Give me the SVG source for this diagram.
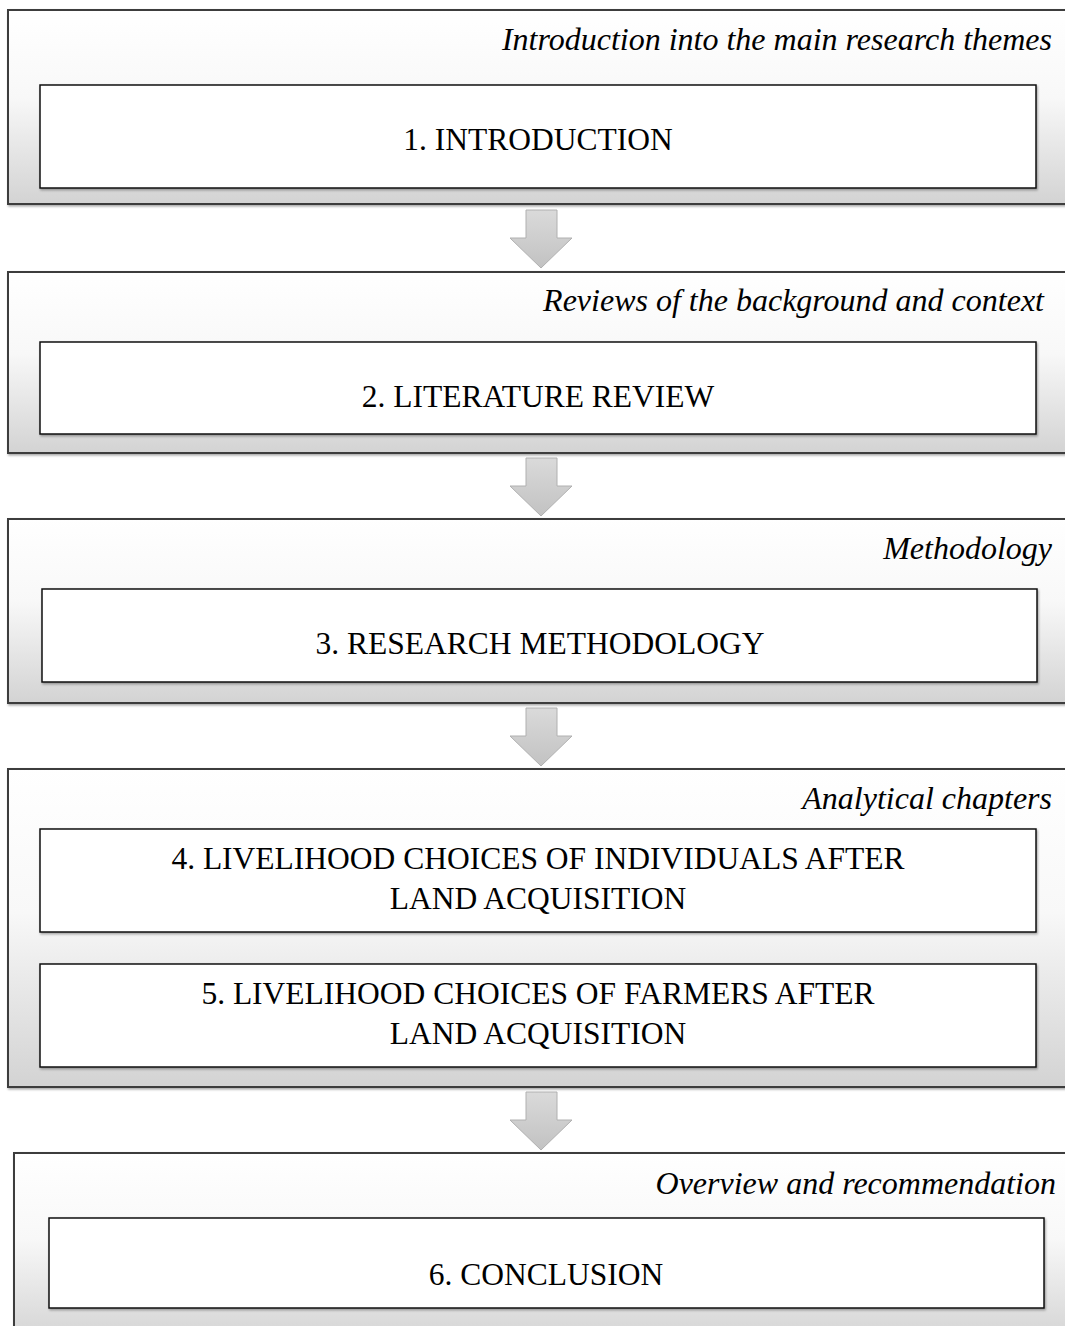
<svg xmlns="http://www.w3.org/2000/svg" width="1065" height="1326" viewBox="0 0 1065 1326">
<defs>
<linearGradient id="og" x1="0" y1="0" x2="0" y2="1">
<stop offset="0" stop-color="#ffffff"/>
<stop offset="0.45" stop-color="#f8f8f8"/>
<stop offset="1" stop-color="#d3d3d3"/>
</linearGradient>
<linearGradient id="ag" x1="0" y1="0" x2="0" y2="1">
<stop offset="0" stop-color="#dadada"/>
<stop offset="1" stop-color="#c2c2c2"/>
</linearGradient>
<filter id="sh" x="-5%" y="-5%" width="110%" height="120%">
<feDropShadow dx="1" dy="1.5" stdDeviation="0.8" flood-color="#000" flood-opacity="0.35"/>
</filter>
</defs>
<style>
.outer{fill:url(#og);stroke:#3c3c3c;stroke-width:2;filter:url(#sh)}
.inner{fill:#ffffff;stroke:#111;stroke-width:1.5;filter:url(#sh)}
.arrow{fill:url(#ag);stroke:#b0b0b0;stroke-width:1}
.lbl{font-family:"Liberation Serif","Times New Roman",serif;font-style:italic;font-size:32px;fill:#000;text-anchor:end}
.ttl{font-family:"Liberation Serif","Times New Roman",serif;font-size:31.5px;fill:#000;text-anchor:middle}
</style>
<g id="section1">
<rect class="outer" x="8" y="10" width="1070" height="194"/>
<text class="lbl" x="1052" y="50">Introduction into the main research themes</text>
</g>
<g id="node1">
<rect class="inner" x="40" y="85" width="996" height="103"/>
<text class="ttl" x="538" y="150">1. INTRODUCTION</text>
</g>
<g id="section2">
<rect class="outer" x="8" y="272" width="1070" height="181"/>
<text class="lbl" x="1044" y="311">Reviews of the background and context</text>
</g>
<g id="node2">
<rect class="inner" x="40" y="342" width="996" height="92"/>
<text class="ttl" x="538" y="407">2. LITERATURE REVIEW</text>
</g>
<g id="section3">
<rect class="outer" x="8" y="519" width="1070" height="184"/>
<text class="lbl" x="1052" y="559">Methodology</text>
</g>
<g id="node3">
<rect class="inner" x="42" y="589" width="995" height="93"/>
<text class="ttl" x="540" y="654">3. RESEARCH METHODOLOGY</text>
</g>
<g id="section4">
<rect class="outer" x="8" y="769" width="1070" height="318"/>
<text class="lbl" x="1052" y="809">Analytical chapters</text>
</g>
<g id="node4">
<rect class="inner" x="40" y="829" width="996" height="103"/>
<text class="ttl" x="538" y="869">4. LIVELIHOOD CHOICES OF INDIVIDUALS AFTER</text>
<text class="ttl" x="538" y="909">LAND ACQUISITION</text>
</g>
<g id="node5">
<rect class="inner" x="40" y="964" width="996" height="103"/>
<text class="ttl" x="538" y="1004">5. LIVELIHOOD CHOICES OF FARMERS AFTER</text>
<text class="ttl" x="538" y="1044">LAND ACQUISITION</text>
</g>
<g id="section5">
<rect class="outer" x="14" y="1153" width="1070" height="190"/>
<text class="lbl" x="1056" y="1194">Overview and recommendation</text>
</g>
<g id="node6">
<rect class="inner" x="49" y="1218" width="995" height="90"/>
<text class="ttl" x="546" y="1285">6. CONCLUSION</text>
</g>
<g id="connectors">
<path class="arrow" d="M526 210 H557 V238 H572 L541 268 L510 238 H526 Z"/>
<path class="arrow" d="M526 458 H557 V486 H572 L541 516 L510 486 H526 Z"/>
<path class="arrow" d="M526 708 H557 V736 H572 L541 766 L510 736 H526 Z"/>
<path class="arrow" d="M526 1092 H557 V1120 H572 L541 1150 L510 1120 H526 Z"/>
</g>
</svg>
